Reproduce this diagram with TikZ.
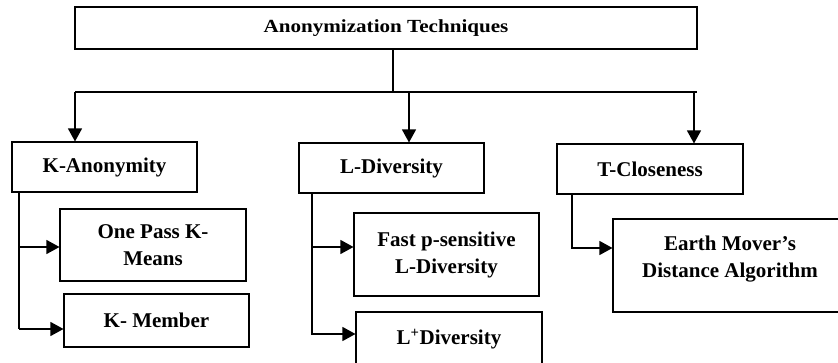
\documentclass[tikz,border=0pt]{standalone}
\usepackage{fontspec}
\setmainfont{Liberation Serif}
\usetikzlibrary{arrows.meta}

\tikzset{
  box/.style={draw, line width=1.1pt, align=center, inner sep=0pt,
    font=\bfseries\fontsize{21}{27}\selectfont},
  link/.style={line width=1.2pt},
  arr/.style={link, -{Triangle[width=14pt,length=13pt]}}
}

\begin{document}
\begin{tikzpicture}[x=1pt,y=-1pt]

  % Frame
  \useasboundingbox (0,0) rectangle (838,363);

  % Top box
  \node[box, minimum width=622pt, minimum height=42pt,
    font=\bfseries\fontsize{18.5}{22}\selectfont] (root) at (386,28)
    {\scalebox{1.14}[1]{Anonymization Techniques}};

  % Second level
  \node[box, minimum width=185pt, minimum height=50pt] (kanon) at (104.5,167) {K-Anonymity};
  \node[box, minimum width=185pt, minimum height=50pt] (ldiv) at (391.5,168) {L-Diversity};
  \node[box, minimum width=186pt, minimum height=50pt] (tclose) at (650,169) {T-Closeness};

  % Third level
  \node[box, minimum width=186pt, minimum height=72pt] (onepass) at (153,245) {One Pass K-\\Means};
  \node[box, minimum width=185pt, minimum height=53pt] (kmember) at (156.5,320.5) {K- Member};
  \node[box, minimum width=185pt, minimum height=83pt] (fastp) at (446.5,254.5) {Fast p-sensitive\\L-Diversity};
  \node[box, minimum width=186pt, minimum height=54pt] (lplus) at (449,339) {L\textsuperscript{+}Diversity};
  \node[box, minimum width=234pt, minimum height=93pt] (earth) at (730,265.5) {Earth Mover’s\\Distance Algorithm\\[-10pt]\mbox{}};

  % Bar under the top box
  \coordinate (stem) at (393,92);
  \coordinate (barL) at (75,92);
  \coordinate (barM) at (409,92);
  \coordinate (barR) at (694,92);
  \draw[link] (root.south -| stem) -- (stem);
  \draw[link] (barL) -- (697,92);
  \draw[arr] (barL) -- (barL |- kanon.north);
  \draw[arr] (barM) -- (barM |- ldiv.north);
  \draw[arr] (barR) -- (barR |- tclose.north);

  % K-Anonymity branch
  \coordinate (kmid) at (19,247);
  \coordinate (kfoot) at (19,329);
  \draw[link] (kanon.south -| kfoot) -- (kfoot);
  \draw[arr] (kmid) -- (kmid -| onepass.west);
  \draw[arr] (kfoot) -- (kfoot -| kmember.west);

  % L-Diversity branch
  \coordinate (lmid) at (312,247);
  \coordinate (lfoot) at (312,334);
  \draw[arr] (ldiv.south -| lfoot) -- (lfoot) -- (lfoot -| lplus.west);
  \draw[arr] (lmid) -- (lmid -| fastp.west);

  % T-Closeness branch
  \coordinate (tfoot) at (572,248);
  \draw[arr] (tclose.south -| tfoot) -- (tfoot) -- (tfoot -| earth.west);

\end{tikzpicture}
\end{document}
